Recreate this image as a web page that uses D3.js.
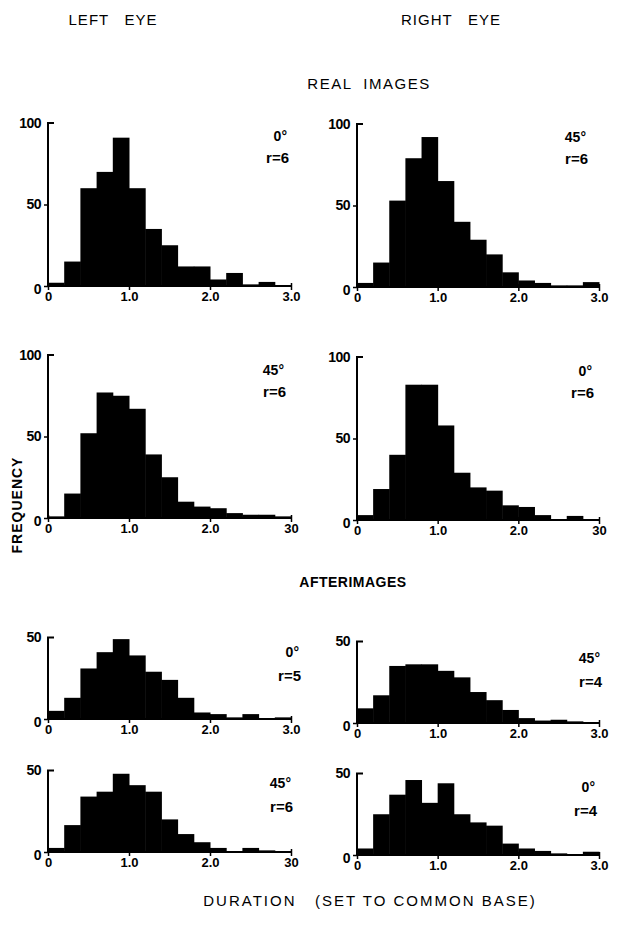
<!DOCTYPE html>
<html>
<head>
<meta charset="utf-8">
<script src="https://cdn.jsdelivr.net/npm/d3@7"></script>
<style>
  body { margin: 0; background: #fff; }
  text { font-family: "Liberation Sans", Arial, sans-serif; fill: #000; white-space: pre; }
</style>
</head>
<body>
<script>
// bins of 0.2 from 0 to 3.0
const bins = d3.range(15).map(i => i * 0.2)

// real images
const realLeft0 = [2, 15, 60, 70, 91, 60, 35, 25, 12, 12, 4, 8, 1, 2.5, 0]
const realRight45 = [2.5, 15, 53, 79, 92, 65, 40, 29, 20, 9, 4, 2.5, 1, 1, 3]
const realLeft45 = [1, 15, 52, 77, 75, 67, 39, 25, 10, 7, 6, 3, 2, 2, 1]
const realRight0 = [3, 19, 40, 83, 83, 58, 29, 20, 18, 9, 8, 3, 0, 2.5, 0]
// afterimages
const afterLeft0 = [5, 13, 31, 41, 49, 39, 29, 24, 13, 4, 3, 1, 3, 0, 1]
const afterRight45 = [9, 17, 35, 36, 36, 32, 28, 19, 14, 8, 3, 1.5, 2, 1, 0]
const afterLeft45 = [2.5, 16.5, 34, 37, 48, 41, 37, 20, 11, 6, 2.5, 0, 2.5, 1, 0]
const afterRight0 = [4, 25, 37, 46, 32, 44, 25, 20, 18, 7, 4, 2.5, 1, 0.5, 2]

const xTicks = [0, 1, 2, 3]
const xLabelsA = ['0', '1.0', '2.0', '3.0']
const xLabelsB = ['0', '1.0', '2.0', '30']

const panels = [
  { data: realLeft0, col: 0, y0: 286, max: 100, angle: '0°', r: 'r=6', labels: xLabelsA, lx: 0, ly: 0 },
  { data: realRight45, col: 1, y0: 287, max: 100, angle: '45°', r: 'r=6', labels: xLabelsA, lx: -9, ly: 0 },
  { data: realLeft45, col: 0, y0: 518, max: 100, angle: '45°', r: 'r=6', labels: xLabelsB, lx: -3, ly: 2 },
  { data: realRight0, col: 1, y0: 520, max: 100, angle: '0°', r: 'r=6', labels: xLabelsB, lx: -3, ly: 1 },
  { data: afterLeft0, col: 0, y0: 719, max: 50, angle: '0°', r: 'r=5', labels: xLabelsA, lx: 12, ly: 1 },
  { data: afterRight45, col: 1, y0: 723, max: 50, angle: '45°', r: 'r=4', labels: xLabelsA, lx: 5, ly: 3 },
  { data: afterLeft45, col: 0, y0: 852, max: 50, angle: '45°', r: 'r=6', labels: xLabelsB, lx: 4, ly: -1 },
  { data: afterRight0, col: 1, y0: 855, max: 50, angle: '0°', r: 'r=4', labels: xLabelsA, lx: 0, ly: 0 }
]

const W = 624, H = 926
const colX = [[48, 291], [357, 599]]
const pxPerUnit = 1.63

const svg = d3.select('body').append('svg')
  .attr('width', W).attr('height', H)

// headers
const title = (t, x, y, size, weight, spacing) => svg.append('text')
  .attr('x', x).attr('y', y).attr('text-anchor', 'middle')
  .attr('font-size', size).attr('font-weight', weight || 'normal')
  .attr('letter-spacing', spacing || 0)
  .text(t)

title('LEFT   EYE', 113, 25, 15, 'normal', 1)
title('RIGHT   EYE', 451, 25, 15, 'normal', 1)
title('REAL  IMAGES', 369, 89, 15, 'normal', 1.5)
title('AFTERIMAGES', 353, 587, 14, 'bold', 0.5)
title('DURATION   (SET TO COMMON BASE)', 370, 906, 15, 'normal', 2)

svg.append('text')
  .attr('transform', 'translate(22,505) rotate(-90)')
  .attr('text-anchor', 'middle')
  .attr('font-size', 14).attr('font-weight', 'bold')
  .attr('letter-spacing', 1)
  .text('FREQUENCY')

panels.forEach(p => {
  const [xa, xb] = colX[p.col]
  const x = d3.scaleLinear().domain([0, 3]).range([xa, xb])
  const y = d3.scaleLinear().domain([0, p.max]).range([p.y0, p.y0 - p.max * pxPerUnit])
  const g = svg.append('g')

  // bars
  g.selectAll('rect')
    .data(p.data)
    .enter()
    .append('rect')
    .attr('x', (d, i) => x(bins[i]))
    .attr('width', x(0.2) - x(0) + 0.5)
    .attr('y', d => y(d))
    .attr('height', d => y(0) - y(d))
    .attr('fill', '#000')

  // x axis
  const xAxis = d3.axisBottom(x)
    .tickValues(xTicks)
    .tickSize(4)
    .tickFormat((d, i) => p.labels[i])
  const gx = g.append('g')
    .attr('transform', `translate(0,${p.y0})`)
    .call(xAxis)
  gx.select('.domain').attr('d', `M${xa},0H${xb}`).attr('stroke-width', 2)
  gx.selectAll('.tick line').attr('stroke-width', 1.5).attr('y1', -3)
  gx.selectAll('.tick text')
    .attr('font-family', '"Liberation Sans", Arial, sans-serif')
    .attr('font-size', 13).attr('font-weight', 'bold')
    .attr('dy', '0.6em')

  // y axis
  const yTicks = p.max === 100 ? [0, 50, 100] : [0, 50]
  const yAxis = d3.axisLeft(y)
    .tickValues(yTicks)
    .tickSize(4)
    .tickFormat(d3.format('d'))
  const gy = g.append('g')
    .attr('transform', `translate(${xa},0)`)
    .call(yAxis)
  gy.select('.domain').attr('d', `M0,${p.y0}V${y(p.max)}H6`).attr('stroke-width', 2)
  gy.selectAll('.tick line').attr('stroke-width', 1.5)
    .attr('x2', d => d === p.max ? 0 : -4)
  gy.selectAll('.tick text')
    .attr('font-family', '"Liberation Sans", Arial, sans-serif')
    .attr('font-size', 14).attr('font-weight', 'bold')
    .attr('letter-spacing', -0.5)
    .attr('dy', d => d === 0 ? '0.55em' : '0.32em')

  // condition labels
  const top = y(p.max)
  g.append('text')
    .attr('x', xb - 4 + p.lx).attr('y', top + 18 + p.ly)
    .attr('text-anchor', 'end')
    .attr('font-size', 14).attr('font-weight', 'bold')
    .text(p.angle)
  g.append('text')
    .attr('x', xb - 2 + p.lx).attr('y', top + (p.max === 100 ? 40 : 42) + p.ly)
    .attr('text-anchor', 'end')
    .attr('font-size', 15).attr('font-weight', 'bold')
    .text(p.r)
})
</script>
</body>
</html>
